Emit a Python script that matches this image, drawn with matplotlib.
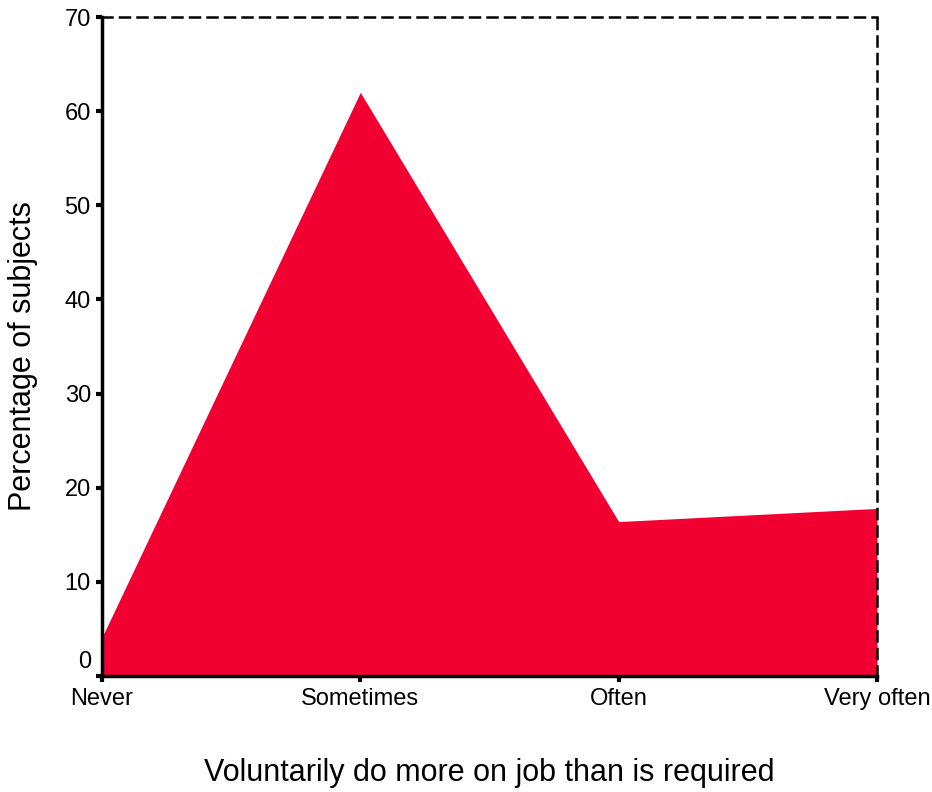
import matplotlib
matplotlib.use("Agg")
import matplotlib.pyplot as plt
import matplotlib.transforms as mtransforms

categories = ["Never", "Sometimes", "Often", "Very often"]
percentages = [4.1, 62.0, 16.4, 17.8]
y_ticks = [0, 10, 20, 30, 40, 50, 60, 70]

plt.rcParams['font.family'] = ['Liberation Sans', 'DejaVu Sans']

fig = plt.figure(figsize=(9.32, 7.92), dpi=100)
ax = fig.add_axes([0.1094, 0.1465, 0.8316, 0.832])

x = list(range(len(categories)))
ax.fill_between(x, percentages, 0, color='#F20032', linewidth=0)

ax.set_xlim(0, len(categories) - 1)
ax.set_ylim(0, 70)
ax.set_yticks(y_ticks)
ax.set_yticklabels([str(v) for v in y_ticks], fontsize=17)
ax.set_xticks(x)
ax.set_xticklabels(categories, fontsize=17)

ax.spines['left'].set_linewidth(2.5)
ax.spines['bottom'].set_linewidth(2.5)
for s in ['top', 'right']:
    ax.spines[s].set_linestyle((0, (4, 3)))
    ax.spines[s].set_linewidth(1.8)
ax.tick_params(axis='y', direction='out', length=4, width=3, pad=4)
ax.tick_params(axis='x', direction='out', length=4, width=3, pad=5)

# shift the '0' label upward slightly as in the reference
lbl0 = ax.get_yticklabels()[0]
lbl0.set_transform(lbl0.get_transform() + mtransforms.ScaledTranslation(0, 12/72, fig.dpi_scale_trans))

ax.set_ylabel("Percentage of subjects", fontsize=22, va='center')
ax.yaxis.set_label_coords(-0.102, 0.486)
ax.set_xlabel("Voluntarily do more on job than is required", fontsize=22, va='center')
ax.xaxis.set_label_coords(0.5, -0.1472)

fig.savefig("out.png", dpi=100, facecolor='white')
